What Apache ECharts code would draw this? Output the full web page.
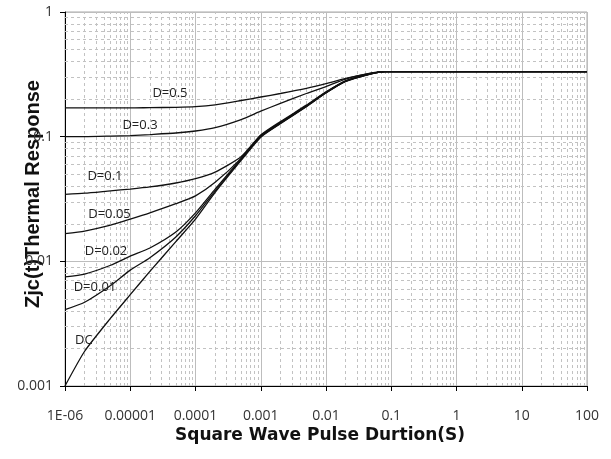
<!DOCTYPE html>
<html>
<head>
<meta charset="utf-8">
<script src="https://cdn.jsdelivr.net/npm/echarts@6/dist/echarts.min.js"></script>
<style>html,body{margin:0;padding:0;background:#fff;}#c{width:611px;height:459px;}</style>
</head>
<body>
<div id="c"></div>
<script>
// ---- data ----
const xVals = [1e-6, 2e-6, 5e-6, 1e-5, 2e-5, 5e-5, 1e-4, 2e-4, 5e-4, 1e-3, 2e-3, 5e-3, 0.01, 0.02, 0.05, 0.08, 0.1, 1, 10, 100];
const seriesNames = ['D=0.5', 'D=0.3', 'D=0.1', 'D=0.05', 'D=0.02', 'D=0.01', 'DC'];
const d05  = [0.17, 0.17, 0.17, 0.17, 0.171, 0.172, 0.174, 0.18, 0.195, 0.208, 0.222, 0.244, 0.266, 0.293, 0.323, 0.333, 0.333, 0.333, 0.333, 0.333];
const d03  = [0.1, 0.1, 0.101, 0.102, 0.104, 0.107, 0.111, 0.118, 0.137, 0.16, 0.185, 0.222, 0.252, 0.29, 0.325, 0.333, 0.333, 0.333, 0.333, 0.333];
const d01  = [0.0345, 0.0352, 0.0368, 0.038, 0.0395, 0.0425, 0.046, 0.052, 0.069, 0.103, 0.132, 0.179, 0.229, 0.281, 0.322, 0.333, 0.333, 0.333, 0.333, 0.333];
const d005 = [0.0167, 0.0175, 0.0195, 0.0218, 0.0245, 0.029, 0.0335, 0.043, 0.067, 0.102, 0.13, 0.177, 0.227, 0.28, 0.321, 0.333, 0.333, 0.333, 0.333, 0.333];
const d002 = [0.0075, 0.0079, 0.0093, 0.011, 0.0128, 0.0172, 0.0245, 0.038, 0.0665, 0.101, 0.129, 0.176, 0.226, 0.279, 0.321, 0.333, 0.333, 0.333, 0.333, 0.333];
const d001 = [0.0041, 0.0047, 0.0064, 0.0085, 0.0107, 0.0157, 0.0232, 0.0368, 0.0655, 0.1, 0.128, 0.175, 0.225, 0.278, 0.32, 0.333, 0.333, 0.333, 0.333, 0.333];
const dc   = [0.001, 0.0019, 0.0035, 0.0054, 0.0083, 0.0144, 0.0218, 0.0357, 0.0645, 0.099, 0.127, 0.174, 0.224, 0.277, 0.319, 0.333, 0.333, 0.333, 0.333, 0.333];
const allValues = [d05, d03, d01, d005, d002, d001, dc];

// curve labels (data coordinates of label centres)
const labelText = ['D=0.5', 'D=0.3', 'D=0.1', 'D=0.05', 'D=0.02', 'D=0.01', 'DC'];
const labelX = [4.06e-5, 1.41e-5, 4.1e-6, 4.81e-6, 4.25e-6, 2.88e-6, 1.95e-6];
const labelY = [0.224, 0.124, 0.0484, 0.024, 0.0121, 0.00622, 0.00234];

// tick labels
const xTickLabels = ['1E-06', '0.00001', '0.0001', '0.001', '0.01', '0.1', '1', '10', '100'];
const yTickLabels = ['0.001', '0.01', '0.1', '1'];

// minor grid values (2..9 of each decade)
const minorX = [];
for (let e = -6; e < 2; e++) for (let m = 2; m <= 9; m++) minorX.push(+(m * Math.pow(10, e)).toPrecision(3));
const minorY = [];
for (let e = -3; e < 0; e++) for (let m = 2; m <= 9; m++) minorY.push(+(m * Math.pow(10, e)).toPrecision(3));
const xMin = 1e-6, xMax = 100, yMin = 0.001, yMax = 1;

const chart = echarts.init(document.getElementById('c'), null, {renderer: 'canvas'});

const lineSeries = seriesNames.map((n, i) => ({
  name: n,
  type: 'line',
  data: xVals.map((x, j) => [x, allValues[i][j]]),
  showSymbol: false,
  smooth: 0.2,
  lineStyle: {color: '#111', width: 1.3},
  z: 5,
  animation: false
}));

const gridLinesData = minorX.map(v => ({coords: [[v, yMin], [v, yMax]]}))
  .concat(minorY.map(v => ({coords: [[xMin, v], [xMax, v]]})));

const option = {
  animation: false,
  grid: {left: 65, right: 24, top: 12, bottom: 73, show: true, borderColor: '#a8a8a8', borderWidth: 1},
  xAxis: {
    type: 'log', logBase: 10, min: xMin, max: xMax,
    name: 'Square Wave Pulse Durtion(S)', nameLocation: 'middle', nameGap: 41, nameMoveOverlap: false,
    nameTextStyle: {fontFamily: 'DejaVu Sans', fontWeight: 'bold', fontSize: 17, color: '#111', padding: [0, 12, 0, 0]},
    axisLine: {show: true, lineStyle: {color: '#000', width: 1}},
    axisTick: {show: true, length: 5, lineStyle: {color: '#000'}},
    axisLabel: {
      margin: 23, fontFamily: 'Open Sans', fontSize: 14, color: '#333',
      formatter: v => xTickLabels[Math.round(Math.log10(v)) + 6]
    },
    splitLine: {show: true, lineStyle: {color: '#bdbdbd', width: 1}}
  },
  yAxis: {
    type: 'log', logBase: 10, min: yMin, max: yMax,
    name: 'Zjc(t)Thermal Response', nameLocation: 'middle', nameGap: 22, nameRotate: 90, nameMoveOverlap: false,
    nameTextStyle: {fontFamily: 'Liberation Sans', fontWeight: 'bold', fontSize: 20, color: '#111', padding: [0, 0, 0, 10]},
    axisLine: {show: true, lineStyle: {color: '#000', width: 1}},
    axisTick: {show: true, length: 5, lineStyle: {color: '#000'}},
    axisLabel: {
      margin: 12, fontFamily: 'Open Sans', fontSize: 14, color: '#333',
      formatter: v => yTickLabels[Math.round(Math.log10(v)) + 3]
    },
    splitLine: {show: true, lineStyle: {color: '#bdbdbd', width: 1}}
  },
  series: [
    {
      type: 'lines', coordinateSystem: 'cartesian2d', silent: true, z: 1,
      polyline: false, effect: {show: false},
      lineStyle: {color: '#c2c2c2', type: [3, 3], width: 1, opacity: 1},
      data: gridLinesData
    },
    ...lineSeries
  ]
};
chart.setOption(option);

// curve labels placed through the chart's own coordinate conversion
const labelGraphics = labelText.map((t, i) => {
  const p = chart.convertToPixel({gridIndex: 0}, [labelX[i], labelY[i]]);
  return {
    type: 'text', x: p[0], y: p[1], z: 10, silent: true,
    style: {text: t, align: 'center', verticalAlign: 'middle', fontFamily: 'Open Sans', fontSize: 13, fill: '#222'}
  };
});
chart.setOption({graphic: labelGraphics});
</script>
</body>
</html>
